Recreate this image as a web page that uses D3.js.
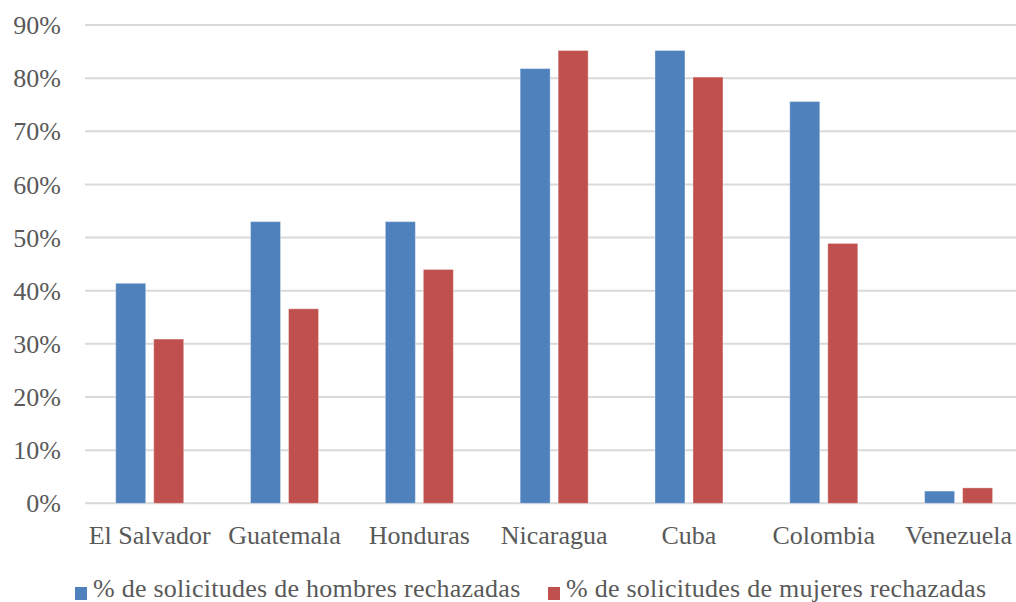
<!DOCTYPE html>
<html>
<head>
<meta charset="utf-8">
<script src="https://cdn.jsdelivr.net/npm/d3@7"></script>
<style>
  html, body { margin: 0; padding: 0; background: #ffffff; }
  svg { display: block; }
  text { font-family: "Liberation Serif", "Times New Roman", serif; fill: #595959; }
</style>
</head>
<body>
<svg id="chart" width="1016" height="602"></svg>
<script>
// Rejected asylum requests by country of origin and sex
const countries = ["El Salvador", "Guatemala", "Honduras", "Nicaragua", "Cuba", "Colombia", "Venezuela"];
const seriesNames = ["% de solicitudes de hombres rechazadas", "% de solicitudes de mujeres rechazadas"];
const menRejected   = [0.414, 0.530, 0.530, 0.818, 0.852, 0.756, 0.023];
const womenRejected = [0.309, 0.366, 0.440, 0.852, 0.802, 0.489, 0.029];
const yTicks = [0, 0.1, 0.2, 0.3, 0.4, 0.5, 0.6, 0.7, 0.8, 0.9];
const colors = ["#4F81BD", "#C0504D"];

const svg = d3.select("#chart");

const y = d3.scaleLinear().domain([0, 0.9]).range([503.3, 25]);
const x0 = d3.scaleBand().domain(countries).range([82.3, 1026]).paddingInner(0).paddingOuter(0);
const groupW = 68;
const x1 = d3.scaleBand().domain(seriesNames).range([0, groupW]).paddingInner(8 / 38).paddingOuter(0);

// horizontal gridlines
svg.append("g")
  .selectAll("line")
  .data(yTicks)
  .join("line")
  .attr("x1", 85)
  .attr("x2", 1016)
  .attr("y1", d => y(d))
  .attr("y2", d => y(d))
  .attr("stroke", "#D9D9D9")
  .attr("stroke-width", 2);

// y axis labels
const yAxis = d3.axisLeft(y).tickValues(yTicks).tickFormat(d3.format(".0%")).tickSize(0).tickPadding(0);
const gy = svg.append("g").attr("transform", "translate(61,0)").call(yAxis);
gy.select(".domain").remove();
gy.selectAll("text")
  .style("font-family", "'Liberation Serif', serif")
  .style("font-size", "26px")
  .style("fill", "#595959")
  .attr("dy", "0.33em");

// bars
const rows = countries.map((c, i) => ({ country: c, values: [menRejected[i], womenRejected[i]] }));
const groups = svg.append("g")
  .selectAll("g")
  .data(rows)
  .join("g")
  .attr("transform", d => `translate(${x0(d.country) + (x0.bandwidth() - groupW) / 2},0)`);

groups.selectAll("rect")
  .data(d => d.values.map((v, k) => ({ name: seriesNames[k], value: v, k })))
  .join("rect")
  .attr("x", d => x1(d.name))
  .attr("width", x1.bandwidth())
  .attr("y", d => y(d.value))
  .attr("height", d => y(0) - y(d.value))
  .attr("fill", d => colors[d.k])
  .attr("stroke", "rgba(255,255,255,0.35)")
  .attr("stroke-width", 1);

// category axis
const xAxis = d3.axisBottom(x0).tickSize(0).tickPadding(0);
const gx = svg.append("g").attr("transform", "translate(0,544)").call(xAxis);
gx.select(".domain").remove();
gx.selectAll("text")
  .style("font-family", "'Liberation Serif', serif")
  .style("font-size", "26px")
  .style("fill", "#595959")
  .attr("dy", 0)
  .attr("y", 0);

// legend
const legendX = [75, 548];
const legend = svg.append("g")
  .selectAll("g")
  .data(seriesNames)
  .join("g")
  .attr("transform", (d, i) => `translate(${legendX[i]},0)`);
legend.append("rect")
  .attr("x", 0).attr("y", 587)
  .attr("width", 12).attr("height", 13)
  .attr("fill", (d, i) => colors[i]);
legend.append("text")
  .attr("x", 18).attr("y", 597)
  .style("font-size", "26px")
  .style("letter-spacing", "0.25px")
  .text(d => d);
</script>
</body>
</html>
